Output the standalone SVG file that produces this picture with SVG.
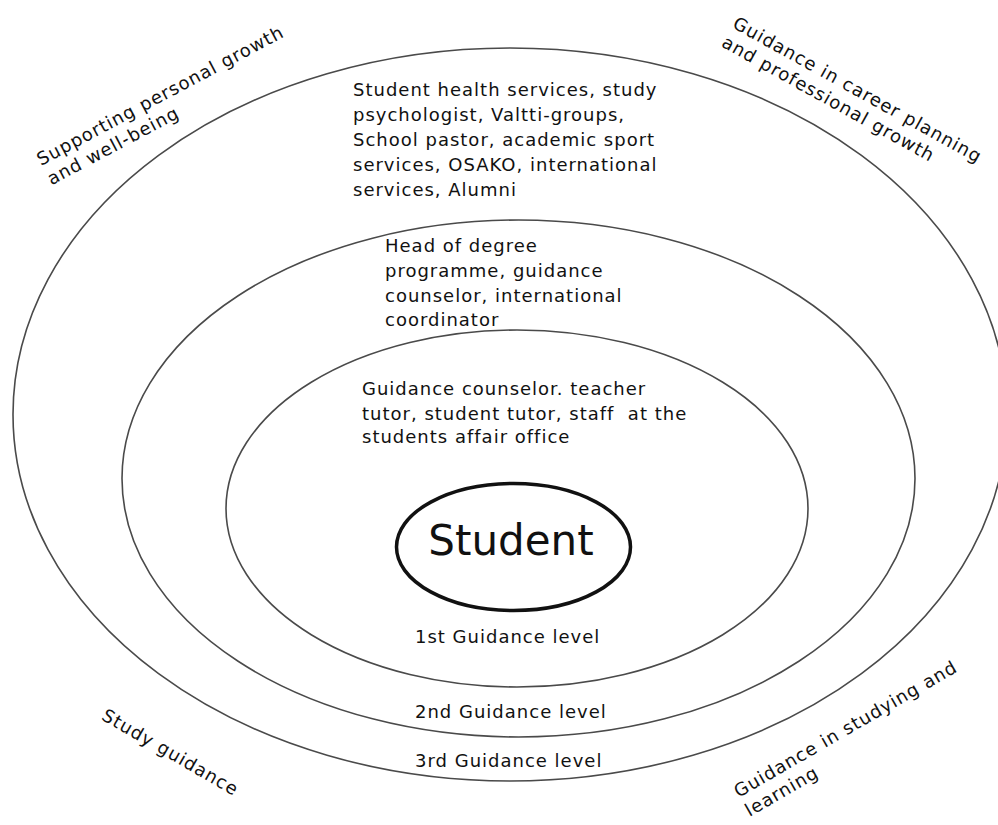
<svg xmlns="http://www.w3.org/2000/svg" width="998" height="825" viewBox="0 0 998 825">
<style>
.ring{fill:none;stroke:#4a4a4a;stroke-width:1.6}
.core{fill:#fff;stroke:#111;stroke-width:3.5}
.t{font-family:"DejaVu Sans","Verdana",sans-serif;font-size:18px;letter-spacing:1px;fill:#111}
.big{font-family:"DejaVu Sans","Verdana",sans-serif;font-size:42px;fill:#111}
</style>
<rect width="998" height="825" fill="#fff"/>
<g id="level3">
<ellipse class="ring" cx="510" cy="414.5" rx="497" ry="366.5"/>
<text class="t" x="353" y="96">Student health services, study</text>
<text class="t" x="353" y="121">psychologist, Valtti-groups,</text>
<text class="t" x="353" y="146">School pastor, academic sport</text>
<text class="t" x="353" y="171">services, OSAKO, international</text>
<text class="t" x="353" y="196">services, Alumni</text>
<text class="t" x="415" y="767">3rd Guidance level</text>
</g>
<g id="level2">
<ellipse class="ring" cx="518.5" cy="478.5" rx="396.5" ry="258.5"/>
<text class="t" x="385" y="252">Head of degree</text>
<text class="t" x="385" y="277">programme, guidance</text>
<text class="t" x="385" y="302">counselor, international</text>
<text class="t" x="385" y="326">coordinator</text>
<text class="t" x="415" y="718">2nd Guidance level</text>
</g>
<g id="level1">
<ellipse class="ring" cx="517" cy="508.5" rx="291" ry="178.5"/>
<text class="t" x="362" y="395">Guidance counselor. teacher</text>
<text class="t" x="362" y="419.5" style="white-space:pre">tutor, student tutor, staff  at the</text>
<text class="t" x="362" y="443">students affair office</text>
<text class="t" x="415" y="643">1st Guidance level</text>
</g>
<g id="student">
<ellipse class="core" cx="513.5" cy="547" rx="117" ry="63.5"/>
<text class="big" x="511" y="555" text-anchor="middle">Student</text>
</g>
<g id="label-personal-growth">
<text class="t" transform="translate(41,166) rotate(-28)">Supporting personal growth</text>
<text class="t" transform="translate(51.5,185.5) rotate(-28)">and well-being</text>
</g>
<g id="label-career">
<text class="t" transform="translate(731.5,27) rotate(29)">Guidance in career planning</text>
<text class="t" transform="translate(720.5,46) rotate(29)">and professional growth</text>
</g>
<g id="label-study-guidance">
<text class="t" transform="translate(100.5,719) rotate(30)">Study guidance</text>
</g>
<g id="label-studying-learning">
<text class="t" transform="translate(738.5,798) rotate(-30)">Guidance in studying and</text>
<text class="t" transform="translate(749.5,817) rotate(-30)">learning</text>
</g>
<g id="connectors"/>
</svg>
